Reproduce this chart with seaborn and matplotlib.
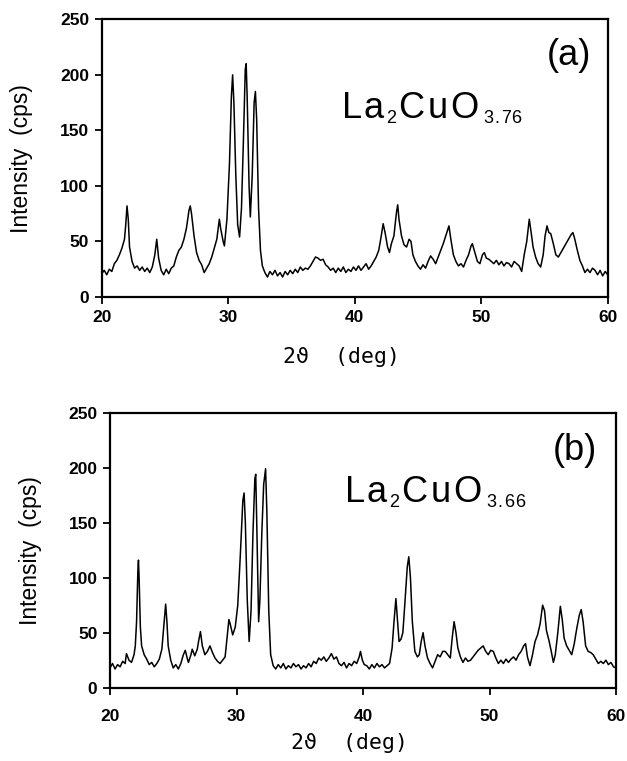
import matplotlib
matplotlib.use("Agg")
import matplotlib.pyplot as plt
import seaborn as sns
import pandas as pd

# --- Pattern (a): La2CuO3.76 ---
a_two_theta = [
    20.0, 20.2, 20.4, 20.6, 20.8, 21.0, 21.2, 21.4, 21.6, 21.8, 21.9, 22.0, 22.1, 22.2, 22.4,
    22.6, 22.8, 23.0, 23.2, 23.4, 23.6, 23.8, 24.0, 24.2, 24.35, 24.5, 24.7, 24.9, 25.1, 25.3,
    25.5, 25.7, 25.9, 26.1, 26.3, 26.5, 26.7, 26.9, 27.0, 27.1, 27.3, 27.5, 27.7, 27.9, 28.1,
    28.3, 28.5, 28.7, 28.9, 29.1, 29.3, 29.4, 29.6, 29.7, 29.9, 30.1, 30.25, 30.35, 30.45, 30.6,
    30.75, 30.9, 31.05, 31.2, 31.35, 31.42, 31.5, 31.65, 31.75, 31.9, 32.05, 32.15, 32.25, 32.4, 32.55,
    32.7, 32.9, 33.1, 33.3, 33.5, 33.7, 33.9, 34.1, 34.3, 34.5, 34.7, 34.9, 35.1, 35.3, 35.5,
    35.7, 35.9, 36.1, 36.3, 36.5, 36.7, 36.9, 37.1, 37.3, 37.5, 37.7, 37.9, 38.1, 38.3, 38.5,
    38.7, 38.9, 39.1, 39.3, 39.5, 39.7, 39.9, 40.1, 40.3, 40.5, 40.7, 40.9, 41.1, 41.3, 41.5,
    41.7, 41.9, 42.1, 42.25, 42.4, 42.6, 42.75, 42.9, 43.1, 43.3, 43.4, 43.5, 43.7, 43.9, 44.1,
    44.3, 44.45, 44.6, 44.8, 45.0, 45.2, 45.4, 45.6, 45.8, 46.0, 46.2, 46.4, 46.6, 46.8, 47.0,
    47.2, 47.45, 47.6, 47.8, 48.0, 48.2, 48.4, 48.6, 48.8, 49.0, 49.2, 49.3, 49.5, 49.7, 49.9,
    50.1, 50.25, 50.4, 50.6, 50.8, 51.0, 51.2, 51.4, 51.6, 51.8, 52.0, 52.2, 52.4, 52.6, 52.8,
    53.0, 53.2, 53.4, 53.6, 53.8, 53.95, 54.1, 54.3, 54.5, 54.7, 54.9, 55.05, 55.2, 55.35, 55.5,
    55.7, 55.9, 56.1, 56.3, 56.5, 56.7, 56.9, 57.1, 57.25, 57.4, 57.6, 57.8, 58.0, 58.2, 58.4,
    58.6, 58.8, 59.0, 59.2, 59.4, 59.6, 59.8, 60.0,
]
a_counts = [
    21, 24, 20, 25, 23, 30, 33, 38, 44, 52, 65, 82, 70, 45, 32,
    26, 28, 24, 27, 23, 26, 22, 27, 38, 52, 35, 24, 20, 25, 21,
    26, 28, 36, 42, 45, 52, 62, 78, 82, 75, 55, 40, 33, 29, 22,
    26, 30, 36, 44, 52, 70, 62, 50, 46, 70, 120, 180, 200, 175, 110,
    65, 54, 80, 140, 205, 210, 180, 100, 72, 110, 175, 185, 160, 80, 42,
    28, 22, 18, 23, 20, 24, 19, 22, 18, 23, 20, 24, 21, 25, 22,
    27, 24, 26, 25, 28, 32, 36, 35, 33, 34, 29, 27, 24, 26, 22,
    26, 23, 27, 22, 25, 23, 27, 24, 28, 24, 27, 30, 25, 28, 32,
    36, 42, 55, 66, 58, 45, 40, 48, 55, 76, 83, 70, 55, 47, 45,
    52, 50, 38, 32, 28, 25, 29, 26, 32, 37, 34, 30, 36, 42, 48,
    55, 64, 52, 38, 32, 28, 30, 27, 33, 38, 46, 48, 40, 32, 30,
    38, 40, 35, 34, 32, 30, 33, 29, 32, 28, 31, 30, 27, 32, 30,
    28, 23, 38, 50, 70, 58, 45, 36, 30, 27, 38, 55, 64, 58, 57,
    48, 38, 36, 40, 44, 48, 52, 56, 58, 52, 42, 33, 28, 22, 25,
    22, 26, 24, 20, 24, 19, 23, 20,
]

# --- Pattern (b): La2CuO3.66 ---
b_two_theta = [
    20.0, 20.2, 20.4, 20.6, 20.8, 21.0, 21.2, 21.3, 21.5, 21.7, 21.9, 22.0, 22.1, 22.2, 22.25,
    22.3, 22.4, 22.5, 22.7, 22.9, 23.1, 23.3, 23.5, 23.7, 23.9, 24.1, 24.25, 24.4, 24.5, 24.6,
    24.8, 25.0, 25.2, 25.4, 25.6, 25.8, 25.95, 26.1, 26.2, 26.4, 26.5, 26.7, 26.9, 27.0, 27.15,
    27.3, 27.5, 27.7, 27.9, 28.1, 28.3, 28.5, 28.7, 28.9, 29.1, 29.25, 29.4, 29.5, 29.7, 29.9,
    30.1, 30.3, 30.5, 30.6, 30.7, 30.85, 31.0, 31.15, 31.3, 31.45, 31.52, 31.6, 31.75, 31.85, 32.0,
    32.15, 32.3, 32.4, 32.55, 32.7, 32.9, 33.1, 33.3, 33.5, 33.7, 33.9, 34.1, 34.3, 34.5, 34.7,
    34.9, 35.1, 35.3, 35.5, 35.7, 35.9, 36.1, 36.3, 36.5, 36.7, 36.9, 37.1, 37.3, 37.5, 37.7,
    37.9, 38.1, 38.3, 38.5, 38.7, 38.9, 39.1, 39.3, 39.5, 39.7, 39.8, 39.95, 40.1, 40.3, 40.5,
    40.7, 40.9, 41.1, 41.3, 41.5, 41.7, 41.9, 42.1, 42.3, 42.45, 42.6, 42.7, 42.85, 43.0, 43.15,
    43.3, 43.5, 43.62, 43.75, 43.9, 44.1, 44.3, 44.45, 44.6, 44.75, 44.9, 45.1, 45.3, 45.5, 45.7,
    45.9, 46.1, 46.3, 46.5, 46.7, 46.9, 47.05, 47.2, 47.35, 47.5, 47.7, 47.9, 48.1, 48.3, 48.5,
    48.7, 48.9, 49.1, 49.3, 49.5, 49.7, 49.9, 50.1, 50.3, 50.5, 50.7, 50.9, 51.1, 51.3, 51.5,
    51.7, 51.9, 52.1, 52.3, 52.5, 52.7, 52.85, 53.0, 53.2, 53.4, 53.6, 53.8, 54.0, 54.2, 54.35,
    54.5, 54.7, 54.9, 55.05, 55.2, 55.4, 55.6, 55.75, 55.9, 56.1, 56.3, 56.5, 56.7, 56.9, 57.1,
    57.25, 57.4, 57.6, 57.8, 58.0, 58.2, 58.4, 58.6, 58.8, 59.0, 59.2, 59.4, 59.6, 59.8, 60.0,
]
b_counts = [
    18, 22, 17, 21, 19, 24, 22, 31, 25, 23, 30, 38, 60, 105, 116,
    100, 55, 38, 30, 26, 21, 23, 19, 22, 26, 35, 55, 76, 60, 38,
    25, 18, 21, 17, 22, 30, 34, 27, 23, 30, 35, 29, 35, 42, 51,
    38, 30, 33, 38, 32, 27, 24, 22, 25, 28, 45, 62, 58, 48, 55,
    75, 120, 170, 177, 150, 80, 42, 70, 140, 190, 194, 150, 60, 80, 140,
    185, 199, 160, 70, 30, 20, 17, 21, 18, 22, 17, 20, 18, 22, 19,
    21, 17, 20, 18, 22, 19, 24, 22, 27, 25, 28, 24, 27, 31, 26,
    28, 22, 20, 23, 18, 22, 20, 24, 22, 28, 33, 25, 21, 20, 17,
    21, 18, 22, 19, 21, 18, 20, 22, 36, 60, 81, 65, 42, 44, 50,
    75, 110, 119, 100, 60, 33, 28, 30, 42, 50, 38, 27, 22, 18, 24,
    30, 28, 33, 33, 30, 27, 45, 60, 50, 36, 28, 23, 27, 24, 25,
    28, 31, 34, 36, 38, 33, 30, 34, 33, 27, 22, 25, 22, 26, 23,
    26, 28, 25, 30, 33, 38, 40, 28, 20, 30, 42, 48, 58, 75, 70,
    52, 43, 32, 23, 30, 50, 74, 62, 45, 38, 34, 30, 40, 54, 66,
    71, 60, 38, 33, 32, 30, 26, 22, 24, 22, 25, 21, 23, 19, 18,
]

x_ticks = [20, 30, 40, 50, 60]
y_ticks = [0, 50, 100, 150, 200, 250]

sns.set_theme(style="ticks")
plt.rcParams["font.family"] = ["Liberation Sans", "DejaVu Sans"]

W, H = 627, 761
fig = plt.figure(figsize=(W / 100, H / 100), dpi=100)
rend = fig.canvas.get_renderer()

# axes boxes in pixels (left, top, right, bottom)
boxes = [(101.7, 19.3, 607.7, 297.0), (110.0, 412.7, 616.0, 687.7)]
panels = [
    dict(x=a_two_theta, y=a_counts, tag="(a)", sub="3.76", xpad=4, xlab=-0.18,
         tagpos=(569, 65), base=118, sbase=123, start=342),
    dict(x=b_two_theta, y=b_counts, tag="(b)", sub="3.66", xpad=10, xlab=-0.165,
         tagpos=(575, 460), base=502, sbase=507, start=345),
]


def tracked(px, py, s, size, gap):
    # draw characters one after another with a little extra spacing
    for ch in s:
        t = fig.text(px / W, 1 - py / H, ch, fontsize=size, color="black",
                     ha="left", va="baseline")
        px = t.get_window_extent(rend).x1 + gap
    return px


for (l, t, r, b), p in zip(boxes, panels):
    ax = fig.add_axes([l / W, 1 - b / H, (r - l) / W, (b - t) / H])
    df = pd.DataFrame({"two_theta": p["x"], "counts": p["y"]})
    sns.lineplot(data=df, x="two_theta", y="counts", ax=ax, color="black",
                 linewidth=1.1, estimator=None)
    ax.set_xlim(20, 60)
    ax.set_ylim(0, 250)
    ax.set_xticks(x_ticks)
    ax.set_yticks(y_ticks)
    for s in ax.spines.values():
        s.set_linewidth(1.6)
        s.set_color("black")
        s.set_visible(True)
    ax.tick_params(direction="out", length=5, width=1.3, colors="black",
                   labelsize=12.5)
    ax.tick_params(axis="x", pad=p["xpad"])
    ax.tick_params(axis="y", pad=4)
    for lab in ax.get_xticklabels() + ax.get_yticklabels():
        lab.set_fontweight("bold")
    ax.set_ylabel("Intensity  (cps)", fontsize=16.5, color="black")
    ax.yaxis.set_label_coords(-0.135, 0.5)
    ax.set_xlabel("2\u03d1  (deg)", fontsize=15.5, color="black",
                  family=["DejaVu Sans Mono", "DejaVu Sans"])
    ax.xaxis.set_label_coords(0.473, p["xlab"])

    fig.text(p["tagpos"][0] / W, 1 - p["tagpos"][1] / H, p["tag"], fontsize=26,
             ha="center", va="baseline", color="black")

    # La2CuO_x with small subscripts
    px = tracked(p["start"], p["base"], "La", 26, 1)
    px = tracked(px + 2, p["sbase"], "2", 13, 0)
    px = tracked(px + 2, p["base"], "CuO", 26, 3)
    tracked(px + 2, p["sbase"], p["sub"], 13, 1)

fig.savefig("out.png", dpi=100)
